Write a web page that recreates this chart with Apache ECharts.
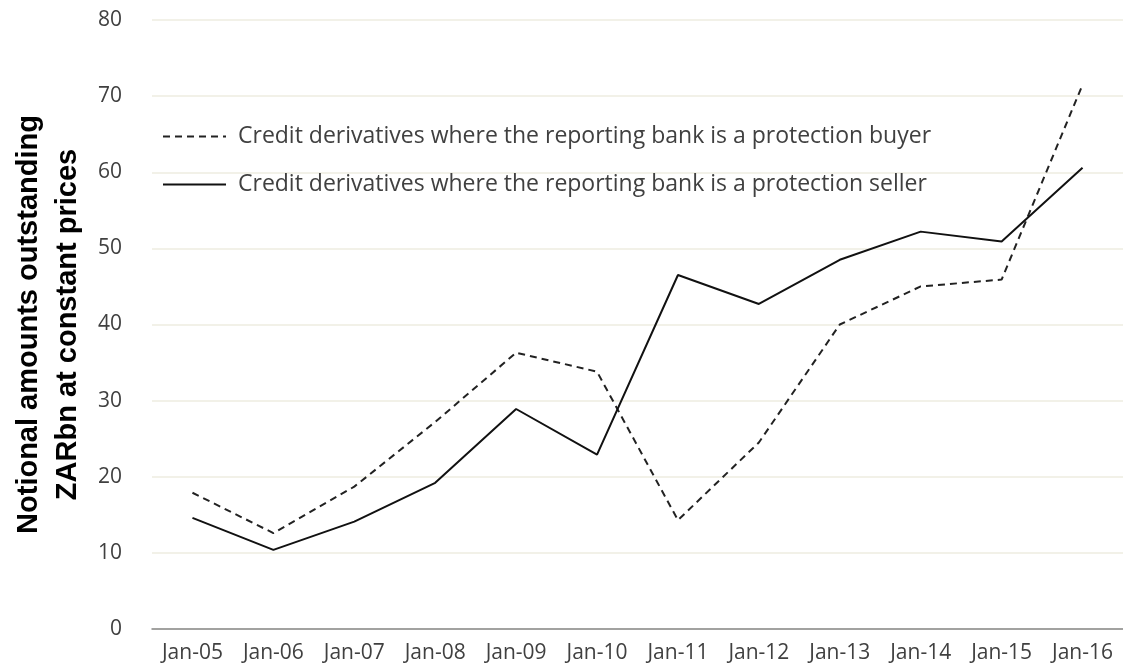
<!DOCTYPE html>
<html>
<head>
<meta charset="utf-8">
<script src="https://cdn.jsdelivr.net/npm/echarts@6/dist/echarts.min.js"></script>
<style>html,body{margin:0;padding:0;background:#fff;}#c{width:1123px;height:671px;}</style>
</head>
<body>
<div id="c"></div>
<script>
const categories = ['Jan-05','Jan-06','Jan-07','Jan-08','Jan-09','Jan-10','Jan-11','Jan-12','Jan-13','Jan-14','Jan-15','Jan-16'];
const buyerValues = [17.9, 12.6, 18.7, 27.2, 36.3, 33.8, 14.3, 24.5, 40.0, 45.0, 45.9, 71.5];
const sellerValues = [14.6, 10.4, 14.1, 19.2, 28.9, 22.9, 46.5, 42.7, 48.5, 52.2, 50.9, 60.6];
const buyerName = 'Credit derivatives where the reporting bank is a protection buyer';
const sellerName = 'Credit derivatives where the reporting bank is a protection seller';
const yTitle = 'Notional amounts outstanding\nZARbn at constant prices';

const chart = echarts.init(document.getElementById('c'), null, {renderer: 'canvas'});
chart.setOption({
  animation: false,
  backgroundColor: '#fff',
  grid: {left: 152, top: 20, width: 979, height: 609, containLabel: false},
  legend: {
    orient: 'vertical', left: 162, top: 125, itemWidth: 63, itemHeight: 20, itemGap: 25,
    padding: 0,
    itemStyle: {opacity: 0},
    textStyle: {fontFamily: 'Open Sans', fontSize: 23, color: '#404040', lineHeight: 20, padding: [0,0,0,7]},
    data: [buyerName, sellerName]
  },
  xAxis: {
    type: 'category', data: categories, boundaryGap: true,
    axisLine: {show: true, lineStyle: {color: '#888', width: 1.5}},
    axisTick: {show: false},
    axisLabel: {fontFamily: 'Open Sans', fontSize: 21, color: '#404040', margin: 14, interval: 0},
    splitLine: {show: false}
  },
  yAxis: {
    type: 'value', min: 0, max: 80, interval: 10,
    name: yTitle, nameLocation: 'middle', nameRotate: 90, nameGap: 104,
    nameTextStyle: {fontFamily: 'Liberation Sans', fontWeight: 'bold', fontSize: 29, color: '#000', lineHeight: 39, verticalAlign: 'middle', align: 'center'},
    axisLine: {show: false}, axisTick: {show: false},
    axisLabel: {fontFamily: 'Open Sans', fontSize: 21, color: '#404040', margin: 30},
    splitLine: {show: true, lineStyle: {color: '#eeece1', width: 1.5}}
  },
  series: [
    {name: buyerName, type: 'line', data: buyerValues, symbol: 'none',
     lineStyle: {color: '#222', width: 2, type: [7, 5]}, itemStyle: {color: '#222'}},
    {name: sellerName, type: 'line', data: sellerValues, symbol: 'none',
     lineStyle: {color: '#111', width: 2, type: 'solid'}, itemStyle: {color: '#111'}}
  ]
});
</script>
</body>
</html>
